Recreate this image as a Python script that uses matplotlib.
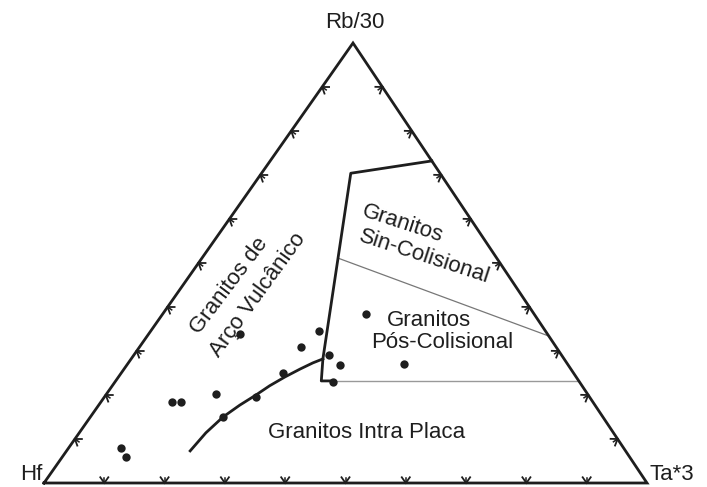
import math
import matplotlib
matplotlib.use("Agg")
import matplotlib.pyplot as plt

plt.rcParams['font.family'] = ['Liberation Sans', 'DejaVu Sans']

# Apex labels of the Hf - Rb/30 - Ta*3 diagram
apex_labels = ["Hf", "Rb/30", "Ta*3"]

# Sample compositions (proportions of Hf, Rb/30, Ta*3)
sample_hf = [0.279, 0.376, 0.423, 0.385, 0.379, 0.272, 0.408, 0.510,
             0.481, 0.553, 0.616, 0.697, 0.682, 0.629, 0.833, 0.835]
sample_rb = [0.384, 0.345, 0.310, 0.292, 0.268, 0.270, 0.230, 0.339,
             0.251, 0.196, 0.202, 0.185, 0.185, 0.151, 0.079, 0.060]
sample_ta = [0.337, 0.279, 0.267, 0.323, 0.353, 0.458, 0.362, 0.151,
             0.268, 0.251, 0.182, 0.118, 0.133, 0.220, 0.088, 0.105]

# Main field boundary (bold): right edge -> corner -> down to the curve junction
main_hf = [0.000, 0.148, 0.400, 0.427, 0.408]
main_rb = [0.732, 0.704, 0.282, 0.232, 0.232]
main_ta = [0.268, 0.148, 0.318, 0.341, 0.360]

# Arc / within-plate boundary curve
curve_hf = [0.722, 0.676, 0.630, 0.589, 0.551, 0.518, 0.483, 0.449, 0.421, 0.400]
curve_rb = [0.073, 0.114, 0.150, 0.177, 0.200, 0.221, 0.241, 0.259, 0.273, 0.282]
curve_ta = [0.205, 0.210, 0.220, 0.234, 0.249, 0.261, 0.276, 0.292, 0.306, 0.318]

# Syn-collision / post-collision divide (thin)
syn_hf = [0.263, 0.000]
syn_rb = [0.511, 0.334]
syn_ta = [0.226, 0.666]

# Post-collision / within-plate divide (thin)
post_hf = [0.408, 0.000]
post_rb = [0.232, 0.232]
post_ta = [0.360, 0.768]

# Drawing frame: vertex positions of the triangle on the canvas
V_HF = (44.0, 483.0)
V_RB = (353.0, 43.0)
V_TA = (647.0, 483.0)


def tern(hf, rb, ta):
    xs, ys = [], []
    for a, b, c in zip(hf, rb, ta):
        s = a + b + c
        a, b, c = a / s, b / s, c / s
        xs.append(a * V_HF[0] + b * V_RB[0] + c * V_TA[0])
        ys.append(a * V_HF[1] + b * V_RB[1] + c * V_TA[1])
    return xs, ys


fig = plt.figure(figsize=(7.07, 4.87), dpi=100)
ax = fig.add_axes([0, 0, 1, 1])
ax.set_xlim(0, 707)
ax.set_ylim(487, 0)
ax.axis('off')

ink = '#1e1e1e'

# Triangle frame
fx, fy = tern([1, 0, 0, 1], [0, 1, 0, 0], [0, 0, 1, 0])
ax.plot(fx, fy, color=ink, lw=2.0, solid_joinstyle='miter', zorder=3)

# Chevron ticks at 10 % steps along every edge
(cx,), (cy,) = tern([1], [1], [1])
edges = [((1, 0, 0), (0, 0, 1)), ((1, 0, 0), (0, 1, 0)), ((0, 1, 0), (0, 0, 1))]
for p0, p1 in edges:
    (sx,), (sy,) = tern([p0[0]], [p0[1]], [p0[2]])
    (ex,), (ey,) = tern([p1[0]], [p1[1]], [p1[2]])
    dx, dy = ex - sx, ey - sy
    L = math.hypot(dx, dy)
    dx, dy = dx / L, dy / L
    for k in range(1, 10):
        t = k / 10
        comp = [p0[i] * (1 - t) + p1[i] * t for i in range(3)]
        (px,), (py,) = tern([comp[0]], [comp[1]], [comp[2]])
        nx, ny = -dy, dx
        if nx * (cx - px) + ny * (cy - py) < 0:
            nx, ny = -nx, -ny
        arm = 7.0
        for sgn in (-1, 1):
            ang = math.radians(35) * sgn
            ux = nx * math.cos(ang) - ny * math.sin(ang)
            uy = nx * math.sin(ang) + ny * math.cos(ang)
            ax.plot([px, px + arm * ux], [py, py + arm * uy], color=ink, lw=1.3, zorder=3)
        ax.plot([px, px + 5 * nx], [py, py + 5 * ny], color=ink, lw=1.1, zorder=3)

# Field boundaries
mx, my = tern(main_hf, main_rb, main_ta)
ax.plot(mx, my, color=ink, lw=2.0, zorder=3)
kx, ky = tern(curve_hf, curve_rb, curve_ta)
ax.plot(kx, ky, color=ink, lw=2.0, zorder=3)
lx, ly = tern(syn_hf, syn_rb, syn_ta)
ax.plot(lx, ly, color='#777777', lw=0.9, zorder=2)
qx, qy = tern(post_hf, post_rb, post_ta)
ax.plot(qx, qy, color='#999999', lw=1.0, zorder=2)

# Samples
spx, spy = tern(sample_hf, sample_rb, sample_ta)
ax.plot(spx, spy, 'o', color=ink, ms=6, mec='none', zorder=4)

fs = 16
# Apex labels
ax.text(355, 22, apex_labels[1], ha='center', va='center', fontsize=fs, color=ink)
ax.text(42, 474, apex_labels[0], ha='right', va='center', fontsize=fs, color=ink)
ax.text(650, 475, apex_labels[2], ha='left', va='center', fontsize=fs, color=ink)

# Field names
ax.text(403, 224, "Granitos", rotation=-18, ha='center', va='center',
        fontsize=fs, color=ink, rotation_mode='anchor')
ax.text(424, 257, "Sin-Colisional", rotation=-18, ha='center', va='center',
        fontsize=fs, color=ink, rotation_mode='anchor')
ax.text(387, 320, "Granitos", ha='left', va='center', fontsize=fs, color=ink)
ax.text(371, 342, "Pós-Colisional", ha='left', va='center', fontsize=fs, color=ink)
ax.text(367, 432, "Granitos Intra Placa", ha='center', va='center', fontsize=fs, color=ink)
ax.text(229, 286, "Granitos de", rotation=53, ha='center', va='center',
        fontsize=fs, color=ink, rotation_mode='anchor')
ax.text(258, 295, "Arço Vulcânico", rotation=54, ha='center', va='center',
        fontsize=fs, color=ink, rotation_mode='anchor')

fig.savefig('out.png', dpi=100, facecolor='white')
